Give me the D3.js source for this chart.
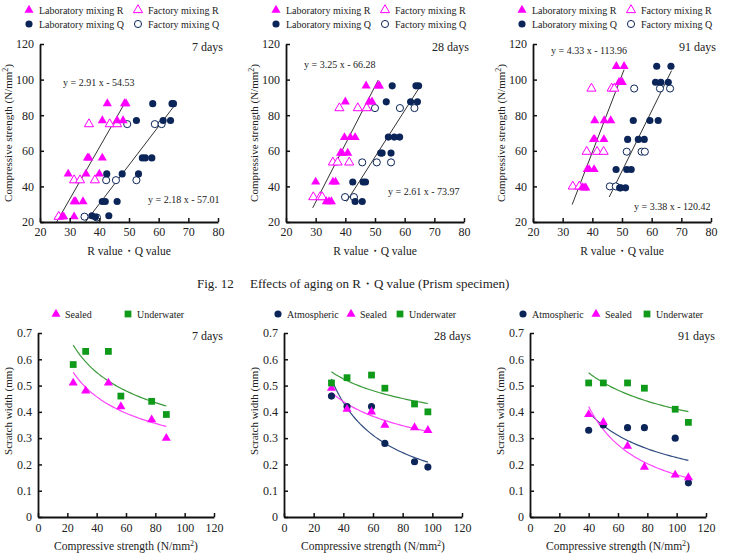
<!DOCTYPE html>
<html>
<head>
<meta charset="utf-8">
<script src="https://cdn.jsdelivr.net/npm/d3@7"></script>
<style>
  body { margin: 0; background: #fff; }
  text { font-family: "Liberation Serif", "Times New Roman", serif; fill: #222; }
</style>
</head>
<body>
<svg id="chart" width="731" height="558"></svg>
<script>
// ---- data: R / Q value vs compressive strength ----
const rqTicks = [20, 30, 40, 50, 60, 70, 80];
const csTicks = [20, 40, 60, 80, 100, 120];

const labR7 = [[42.7,86.5],[48.5,86.5],[49,86.5],[41,77],[46,77],[48,77],[36,56],[36.5,56],[41,56],[29.5,47],[35.5,47],[40,47],[31.5,31.5],[32,31.5],[34.5,31.5],[27.5,23],[28,23],[31.5,23]];
const facR7 = [[36.5,75],[43.5,75],[46,75],[31.5,43.5],[33.5,43.5],[38.5,43.5],[26.3,23]];
const labQ7 = [[58,86.5],[64.5,86.5],[65,86.5],[52.5,77],[61.5,77],[64,77],[54.5,56],[55.5,56],[57.7,56],[42.5,47],[47.7,47],[53.2,47],[41,31.5],[42,31.5],[46,31.5],[37.5,23.5],[38.7,22.8],[43.2,23.5]];
const facQ7 = [[49.4,75],[58.7,75],[61,75],[42.3,43.5],[45.6,43.5],[52.5,43.5],[35,23],[39.2,22.5]];

const labR28 = [[47,96.5],[51,96.5],[51.5,96.5],[40,87.5],[48,87.5],[49,87.5],[39.7,67.5],[41.7,67.5],[43.3,67.5],[38.4,58.7],[38.9,58.7],[40.8,58.7],[30,42.5],[35.8,42.5],[36.7,42.5],[33.6,31.5],[34.5,31.5],[35.3,31.5]];
const facR28 = [[38,84],[44.2,84],[47.2,84],[35.8,53.5],[37.4,53.5],[41.3,53.5],[29.2,34],[31.5,34],[32.2,34]];
const labQ28 = [[55.8,96.5],[63.8,96.5],[64.7,96.5],[53.8,87.5],[62,87.5],[64.3,87.5],[54.5,67.7],[56.5,67.7],[58.3,67.7],[51.9,58.7],[52.4,58.7],[55.4,58.7],[42.5,42.5],[46,42.5],[46.8,42.5],[43.3,31.5],[45.7,31.5]];
const facQ28 = [[50,84],[58.4,84],[63.3,84],[45.7,53.5],[50.6,53.5],[55.4,53.5],[39.9,34],[42.9,34]];

const labR91 = [[48.1,107.5],[50.7,107.5],[49,98.5],[49.6,98.5],[50.1,98.5],[40.8,77],[44,77],[46.2,77],[40.4,66.4],[40.8,66.4],[43.9,66.4],[38.3,49.5],[38.9,49.5],[40.6,49.5],[36.6,39.4],[37.2,39.2],[37.8,39.2]];
const facR91 = [[39.7,95],[46.5,95],[47.4,95],[38.1,59.5],[41.6,59.5],[43.8,59.5],[33.4,40],[35.6,40]];
const labQ91 = [[61.7,107.5],[66.5,107.5],[61.3,98.5],[63.1,98.5],[65.6,98.5],[53.8,77],[59.4,77],[62.2,77],[51.9,66.4],[55.5,66.4],[57.5,66.4],[48,49.5],[51.6,49.5],[53.1,49.5],[49.2,39.2],[49.6,39.2],[51.2,39.2]];
const facQ91 = [[54.1,95],[62.8,95],[66.2,95],[51.6,59.5],[56.6,59.5],[57.7,59.5],[45.9,40],[47.9,40]];

// regression lines: slope, intercept, x extent
const fitR = [[2.91, -54.53, 25.6, 48.9], [3.25, -66.28, 29, 51.1], [4.33, -113.96, 33.2, 50.7]];
const fitQ = [[2.18, -57.01, 35.3, 65], [2.61, -73.97, 40.4, 64.8], [3.38, -120.42, 45.7, 66.7]];

// ---- data: scratch width vs compressive strength ----
const swTicks = [0, 0.1, 0.2, 0.3, 0.4, 0.5, 0.6, 0.7];
const cs2Ticks = [0, 20, 40, 60, 80, 100, 120];

const strength7 = [24, 32.5, 48, 56.5, 77.5, 87.5];
const sealed7 = [0.51, 0.48, 0.51, 0.42, 0.37, 0.30];
const underwater7 = [0.58, 0.63, 0.63, 0.46, 0.44, 0.39];

const strength28 = [32, 42.5, 59, 68, 88, 97];
const atm28 = [0.46, 0.42, 0.42, 0.28, 0.21, 0.19];
const sealed28 = [0.49, 0.41, 0.40, 0.35, 0.34, 0.33];
const underwater28 = [0.51, 0.53, 0.54, 0.49, 0.43, 0.40];

const strength91 = [40, 50, 66.5, 78, 99, 108];
const atm91 = [0.33, 0.35, 0.34, 0.34, 0.30, 0.13];
const sealed91 = [0.39, 0.36, 0.27, 0.19, 0.16, 0.15];
const underwater91 = [0.51, 0.51, 0.51, 0.49, 0.41, 0.36];

const ageLabels = ["7 days", "28 days", "91 days"];

// ---- styles ----
const MAGENTA = "#ff00ff";
const NAVY = "#0b2559";
const GREEN = "#0f9a1a";

const svg = d3.select("#chart");

const sym = (type, size) => d3.symbol().type(type).size(size)();
const TRI = sym(d3.symbolTriangle, 36);
const CIR = sym(d3.symbolCircle, 40);
const SQR = sym(d3.symbolSquare, 46);

function drawMarker(g, path, color, open, x, y) {
  g.append("path")
    .attr("d", path)
    .attr("transform", `translate(${x},${y})`)
    .attr("fill", open ? "#fff" : color)
    .attr("stroke", color)
    .attr("stroke-width", open ? 1 : 0);
}

function styleAxis(g) {
  g.select(".domain").attr("stroke", "#111").attr("stroke-width", 1.8);
  g.selectAll(".tick line").attr("stroke", "#111").attr("stroke-width", 1.5);
  g.selectAll(".tick text").style("font-size", "12px").attr("fill", "#222");
}

const mm2 = "Compressive strength (N/mm<tspan dy='-4' font-size='8'>2</tspan><tspan dy='4'>)</tspan>";

// ---- top row ----
const topX = [[40, 218], [286, 464], [533, 711]];
const topY = [222, 44];
const topSets = [
  [labR7, facR7, labQ7, facQ7],
  [labR28, facR28, labQ28, facQ28],
  [labR91, facR91, labQ91, facQ91]
];
const eqPos = [
  [[63, 86], [148, 203]],
  [[304, 68], [388, 195]],
  [[551, 54], [634, 210]]
];
const legendTop = [[29, 138], [276, 385], [522, 631]];

topSets.forEach((sets, i) => {
  const x = d3.scaleLinear().domain([20, 80]).range(topX[i]);
  const y = d3.scaleLinear().domain([20, 120]).range(topY);
  const g = svg.append("g");

  // regression lines
  [fitR[i], fitQ[i]].forEach(([a, b, x0, x1]) => {
    g.append("line")
      .attr("x1", x(x0)).attr("y1", y(a * x0 + b))
      .attr("x2", x(x1)).attr("y2", y(a * x1 + b))
      .attr("stroke", "#333").attr("stroke-width", 1);
  });

  const [labR, facR, labQ, facQ] = sets;
  facR.forEach(d => drawMarker(g, TRI, MAGENTA, true, x(d[0]), y(d[1])));
  facQ.forEach(d => drawMarker(g, CIR, NAVY, true, x(d[0]), y(d[1])));
  labR.forEach(d => drawMarker(g, TRI, MAGENTA, false, x(d[0]), y(d[1])));
  labQ.forEach(d => drawMarker(g, CIR, NAVY, false, x(d[0]), y(d[1])));

  g.append("g").attr("transform", `translate(0,${topY[0]})`)
    .call(d3.axisBottom(x).tickValues(rqTicks).tickSizeInner(-4).tickSizeOuter(0).tickPadding(5))
    .call(styleAxis);
  g.append("g").attr("transform", `translate(${topX[i][0]},0)`)
    .call(d3.axisLeft(y).tickValues(csTicks).tickSizeInner(-4).tickSizeOuter(0).tickPadding(6))
    .call(styleAxis);

  // equations
  const eq = (a, b) => `y = ${a.toFixed(2)} x - ${Math.abs(b).toFixed(2)}`;
  g.append("text").attr("x", eqPos[i][0][0]).attr("y", eqPos[i][0][1])
    .style("font-size", "10px").text(eq(fitR[i][0], fitR[i][1]));
  g.append("text").attr("x", eqPos[i][1][0]).attr("y", eqPos[i][1][1])
    .style("font-size", "10px").text(eq(fitQ[i][0], fitQ[i][1]));

  g.append("text").attr("x", topX[i][1] + 5).attr("y", 51)
    .attr("text-anchor", "end").style("font-size", "12px").text(ageLabels[i]);

  // axis titles
  g.append("text")
    .attr("transform", `translate(${topX[i][0] - 28},133) rotate(-90)`)
    .attr("text-anchor", "middle").style("font-size", "11px")
    .html(mm2);
  g.append("text").attr("x", (topX[i][0] + topX[i][1]) / 2).attr("y", 255)
    .attr("text-anchor", "middle").style("font-size", "11.5px").text("R value・Q value");

  // legend
  const [lx1, lx2] = legendTop[i];
  const leg = [
    [lx1, 10, TRI, MAGENTA, false, "Laboratory mixing R"],
    [lx2, 10, TRI, MAGENTA, true, "Factory mixing R"],
    [lx1, 24, CIR, NAVY, false, "Laboratory mixing Q"],
    [lx2, 24, CIR, NAVY, true, "Factory mixing Q"]
  ];
  leg.forEach(([lx, ly, p, c, o, t]) => {
    drawMarker(g, p, c, o, lx, ly);
    g.append("text").attr("x", lx + 10).attr("y", ly + 3.5).style("font-size", "10px").text(t);
  });
});

// caption
svg.append("text").attr("x", 197).attr("y", 288).style("font-size", "13px").text("Fig. 12");
svg.append("text").attr("x", 250).attr("y", 288).style("font-size", "13px")
  .text("Effects of aging on R・Q value (Prism specimen)");

// ---- bottom row ----
const botX = [[38, 214], [284, 462], [530, 706]];
const botY = [517, 333];
const botSets = [
  { xs: strength7, series: [["Sealed", sealed7, TRI, MAGENTA, "#ff44ff"], ["Underwater", underwater7, SQR, GREEN, "#3a9a3a"]] },
  { xs: strength28, series: [["Atmospheric", atm28, CIR, NAVY, "#2f4a80"], ["Sealed", sealed28, TRI, MAGENTA, "#ff44ff"], ["Underwater", underwater28, SQR, GREEN, "#3a9a3a"]] },
  { xs: strength91, series: [["Atmospheric", atm91, CIR, NAVY, "#2f4a80"], ["Sealed", sealed91, TRI, MAGENTA, "#ff44ff"], ["Underwater", underwater91, SQR, GREEN, "#3a9a3a"]] }
];
const legendBot = [[56, 128], [278, 351, 400], [523, 596, 647]];

// power trendline y = a x^b (least squares in log-log space)
function powerFit(xs, ys) {
  const lx = xs.map(Math.log), ly = ys.map(Math.log);
  const mx = d3.mean(lx), my = d3.mean(ly);
  const b = d3.sum(lx, (v, k) => (v - mx) * (ly[k] - my)) / d3.sum(lx, v => (v - mx) ** 2);
  const a = Math.exp(my - b * mx);
  return v => a * Math.pow(v, b);
}

botSets.forEach((set, i) => {
  const x = d3.scaleLinear().domain([0, 120]).range(botX[i]);
  const y = d3.scaleLinear().domain([0, 0.7]).range(botY);
  const g = svg.append("g");

  set.series.forEach(([name, ys, p, c, lc]) => {
    const f = powerFit(set.xs, ys);
    const [x0, x1] = d3.extent(set.xs);
    const pts = d3.range(0, 41).map(k => x0 + (x1 - x0) * k / 40);
    g.append("path")
      .attr("d", d3.line().x(v => x(v)).y(v => y(f(v)))(pts))
      .attr("fill", "none").attr("stroke", lc).attr("stroke-width", 1.2);
  });
  set.series.forEach(([name, ys, p, c]) => {
    set.xs.forEach((v, k) => drawMarker(g, p, c, false, x(v), y(ys[k])));
  });

  g.append("g").attr("transform", `translate(0,${botY[0]})`)
    .call(d3.axisBottom(x).tickValues(cs2Ticks).tickSizeInner(-4).tickSizeOuter(0).tickPadding(6))
    .call(styleAxis);
  g.append("g").attr("transform", `translate(${botX[i][0]},0)`)
    .call(d3.axisLeft(y).tickValues(swTicks).tickFormat(d3.format("")).tickSizeInner(-4).tickSizeOuter(0).tickPadding(6))
    .call(styleAxis);

  g.append("text").attr("x", botX[i][1] + 9).attr("y", 340)
    .attr("text-anchor", "end").style("font-size", "12px").text(ageLabels[i]);

  g.append("text")
    .attr("transform", `translate(${botX[i][0] - 26},411) rotate(-90)`)
    .attr("text-anchor", "middle").style("font-size", "11px").text("Scratch width (mm)");
  g.append("text").attr("x", (botX[i][0] + botX[i][1]) / 2).attr("y", 550)
    .attr("text-anchor", "middle").style("font-size", "11.5px")
    .html(mm2);

  set.series.forEach(([name, ys, p, c], k) => {
    const lx = legendBot[i][k];
    drawMarker(g, p, c, false, lx, 314);
    g.append("text").attr("x", lx + 9).attr("y", 317.5).style("font-size", "10px").text(name);
  });
});
</script>
</body>
</html>
